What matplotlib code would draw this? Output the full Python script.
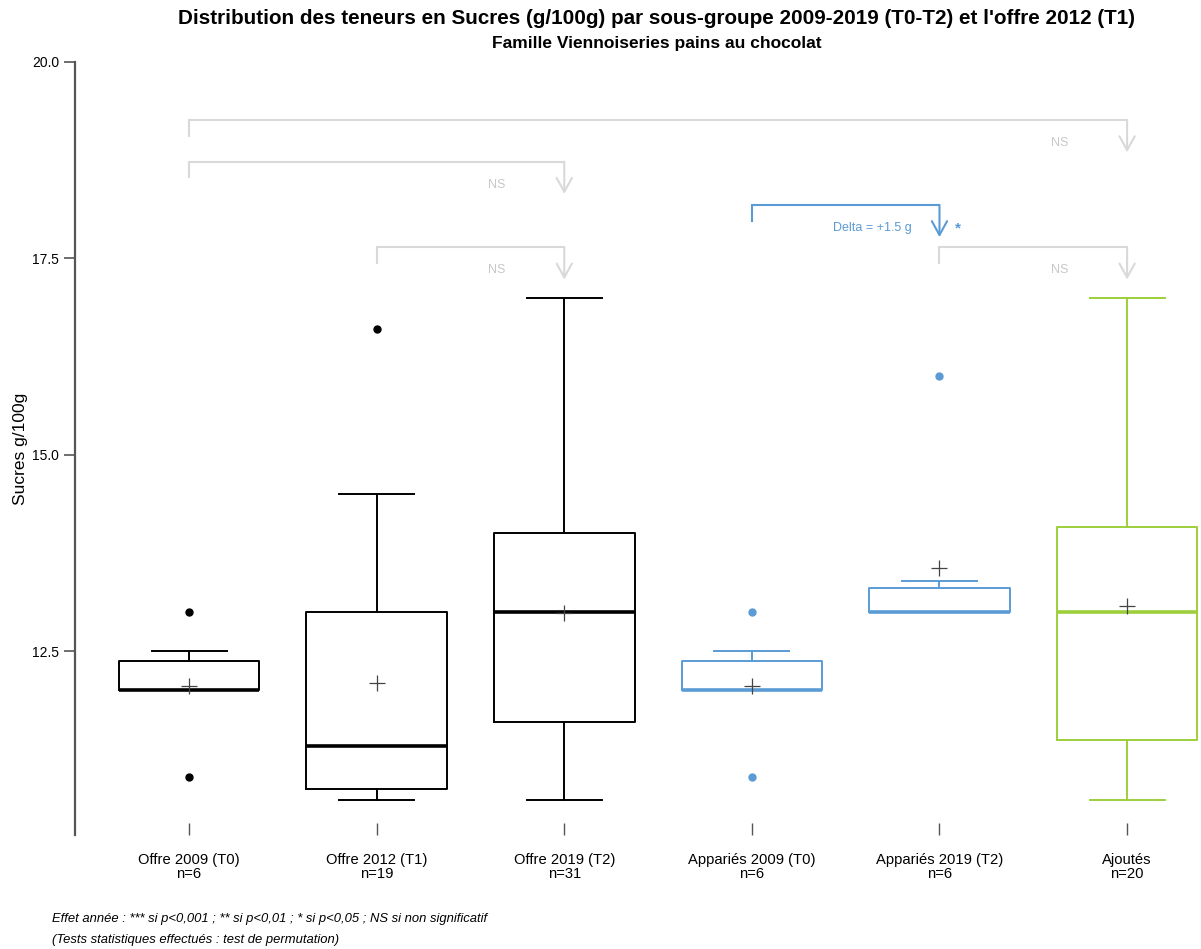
import matplotlib
matplotlib.use('Agg')
import matplotlib.pyplot as plt

plt.rcParams['font.family'] = ['Liberation Sans', 'DejaVu Sans']

# Données
groupes = ['Offre 2009 (T0)', 'Offre 2012 (T1)', 'Offre 2019 (T2)',
           'Appariés 2009 (T0)', 'Appariés 2019 (T2)', 'Ajoutés']
effectifs = [6, 19, 31, 6, 6, 20]
q1 = [12.0, 10.74, 11.6, 12.0, 13.0, 11.37]
mediane = [12.0, 11.29, 13.0, 12.0, 13.0, 13.0]
q3 = [12.37, 13.0, 14.0, 12.37, 13.3, 14.08]
moustache_bas = [12.0, 10.6, 10.6, 12.0, 13.0, 10.6]
moustache_haut = [12.5, 14.5, 17.0, 12.5, 13.39, 17.0]
moyenne = [12.06, 12.09, 12.98, 12.06, 13.56, 13.08]
atypiques = [[13.0, 10.9], [16.6], [], [13.0, 10.9], [16.0], []]
couleurs = ['black', 'black', 'black', '#5b9bd5', '#5b9bd5', '#9dcf3c']

# comparaisons : (groupe depart, groupe arrivee, y haut, texte, significatif)
comparaisons = [
    (1, 6, 19.26, 'NS', False),
    (1, 3, 18.73, 'NS', False),
    (2, 3, 17.64, 'NS', False),
    (4, 5, 18.18, 'Delta = +1.5 g', True),
    (5, 6, 17.64, 'NS', False),
]

fig = plt.figure(figsize=(12.01, 9.49), dpi=100)
ax = fig.add_axes([75 / 1201, 114 / 949, 1126 / 1201, 773 / 949])

pos = list(range(1, len(groupes) + 1))
for i, p in enumerate(pos):
    stats = [{
        'med': mediane[i], 'q1': q1[i], 'q3': q3[i],
        'whislo': moustache_bas[i], 'whishi': moustache_haut[i],
        'mean': moyenne[i], 'fliers': atypiques[i],
    }]
    c = couleurs[i]
    ax.bxp(stats, positions=[p], widths=0.75, capwidths=0.4, showmeans=True,
           boxprops=dict(color=c, lw=1.4),
           whiskerprops=dict(color=c, lw=1.4),
           capprops=dict(color=c, lw=1.4),
           medianprops=dict(color=c, lw=2.6),
           meanprops=dict(marker='+', markeredgecolor='#444444', markersize=12,
                          markeredgewidth=0.9),
           flierprops=dict(marker='o', markerfacecolor=c, markeredgecolor=c,
                           markersize=5),
           manage_ticks=False)
    for art in ax.lines[-7:]:
        art.set_clip_on(False)

# crochets de comparaison
for a, b, y, txt, sig in comparaisons:
    c = '#5b9bd5' if sig else '#d9d9d9'
    tc = '#5b9bd5' if sig else '#c8c8c8'
    ax.plot([a, a, b], [y - 0.2, y, y], color=c, lw=1.5, solid_joinstyle='miter')
    ax.annotate('', xy=(b, y - 0.41), xytext=(b, y),
                arrowprops=dict(arrowstyle='->,head_length=1.0,head_width=0.55',
                                color=c, lw=1.5, shrinkA=0, shrinkB=0))
    ax.text(b - 0.36, y - 0.29, txt, color=tc, fontsize=9, ha='center', va='center')
    if sig:
        ax.text(b + 0.1, y - 0.3, '*', color=c, fontsize=11, fontweight='bold',
                ha='center', va='center')

ax.set_xlim(0.392, 6.394)
ax.set_ylim(10.16, 20.0)
ax.set_yticks([12.5, 15.0, 17.5, 20.0])
ax.set_yticklabels(['12.5', '15.0', '17.5', '20.0'])
ax.set_xticks(pos)
ax.set_xticklabels([f'{g}\nn={n}' for g, n in zip(groupes, effectifs)],
                   fontsize=10.6, linespacing=1.0)
ax.tick_params(axis='y', length=8, width=1.2, color='#555555', labelsize=10)
ax.tick_params(axis='x', direction='in', length=9, width=1.0, color='#555555', pad=13)

for s in ['top', 'right', 'bottom']:
    ax.spines[s].set_visible(False)
ax.spines['left'].set_color('#555555')
ax.spines['left'].set_linewidth(1.6)

ax.set_ylabel('Sucres g/100g', fontsize=12.5, labelpad=3)

fig.text(0.547, 0.981, "Distribution des teneurs en Sucres (g/100g) par sous-groupe 2009-2019 (T0-T2) et l'offre 2012 (T1)",
         ha='center', va='center', fontsize=14.9, fontweight='bold')
fig.text(0.547, 0.954, 'Famille Viennoiseries pains au chocolat',
         ha='center', va='center', fontsize=12.5, fontweight='bold')

fig.text(52 / 1201, 1 - 919 / 949,
         'Effet année : *** si p<0,001 ; ** si p<0,01 ; * si p<0,05 ; NS si non significatif',
         ha='left', va='center', fontsize=9.4, style='italic')
fig.text(52 / 1201, 1 - 940 / 949,
         '(Tests statistiques effectués : test de permutation)',
         ha='left', va='center', fontsize=9.4, style='italic')

fig.savefig('out.png', dpi=100)
